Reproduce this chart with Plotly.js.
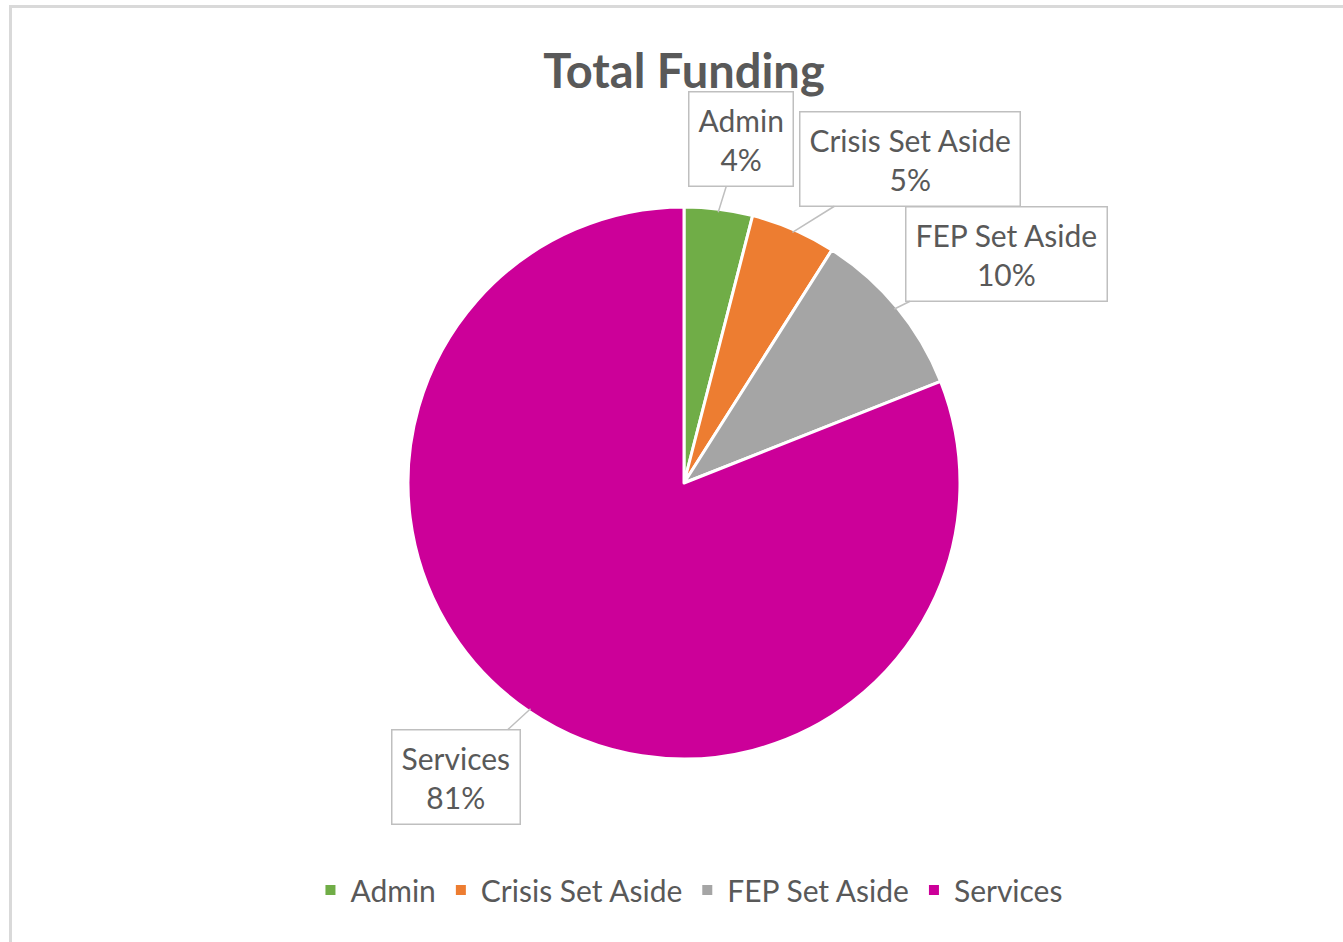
<!DOCTYPE html>
<html>
<head>
<meta charset="utf-8">
<script src="https://cdn.plot.ly/plotly-3.0.1.min.js"></script>
<style>
  html, body { margin: 0; padding: 0; background: #ffffff; }
  #wrap { position: relative; width: 1343px; height: 942px; overflow: hidden; }
  #chart { position: absolute; left: 0; top: 0; width: 1343px; height: 942px; }
  #frame { position: absolute; left: 9px; top: 5px; width: 1400px; height: 1000px;
           border-left: 3px solid #d9d9d9; border-top: 3px solid #d9d9d9; pointer-events: none; }
</style>
</head>
<body>
<div id="wrap">
  <div id="chart"></div>
  <div id="frame"></div>
</div>
<script>
// ---- data ----
const labels = ['Admin', 'Crisis Set Aside', 'FEP Set Aside', 'Services'];
const values = [4, 5, 10, 81];
const colors = ['#70ad47', '#ed7d31', '#a5a5a5', '#cc0099'];

// ---- layout constants ----
const W = 1343, H = 942;
const CX = 684, CY = 483, R = 276;
const labelBoxCenters = [[741, 139], [910, 159], [1006, 254], [456, 777]];
const FONT = 'Lato, "Open Sans", sans-serif';
const TEXT = '#595959';

const total = values.reduce((a, b) => a + b, 0);
let cum = 0;
const annotations = values.map((v, i) => {
  const mid = (cum + v / 2) / total;
  cum += v;
  const a = mid * 2 * Math.PI;
  const tx = CX + (R - 3) * Math.sin(a);
  const ty = CY - (R - 3) * Math.cos(a);
  const [bx, by] = labelBoxCenters[i];
  return {
    x: tx / W, y: 1 - ty / H, xref: 'paper', yref: 'paper',
    ax: bx - tx, ay: by - ty,
    text: labels[i] + '<br>' + Math.round(v / total * 100) + '%',
    showarrow: true, arrowhead: 0, arrowwidth: 1.5, arrowcolor: '#bfbfbf',
    bordercolor: '#bfbfbf', borderwidth: 1.5, borderpad: 9, bgcolor: '#ffffff',
    font: { family: FONT, size: 30, color: TEXT }, align: 'center'
  };
});

const trace = {
  type: 'pie',
  labels: labels,
  values: values,
  sort: false,
  direction: 'clockwise',
  rotation: 0,
  textinfo: 'none',
  hoverinfo: 'label+percent',
  marker: { colors: colors, line: { color: '#ffffff', width: 3 } },
  domain: { x: [(CX - R) / W, (CX + R) / W], y: [1 - (CY + R) / H, 1 - (CY - R) / H] }
};

const layout = {
  width: W, height: H,
  margin: { l: 0, r: 0, t: 0, b: 0 },
  paper_bgcolor: '#ffffff',
  title: {
    text: '<b>Total Funding</b>',
    x: CX / W, xanchor: 'center', y: 1 - 72 / H, yanchor: 'middle',
    font: { family: FONT, size: 47, color: TEXT }
  },
  showlegend: true,
  legend: {
    orientation: 'h', x: 0.513, xanchor: 'center', y: 1 - 890 / H, yanchor: 'middle',
    font: { family: FONT, size: 30, color: TEXT },
    itemsizing: 'constant', traceorder: 'normal'
  },
  annotations: annotations
};

Plotly.newPlot('chart', [trace], layout, { displayModeBar: false, staticPlot: true });
</script>
</body>
</html>
